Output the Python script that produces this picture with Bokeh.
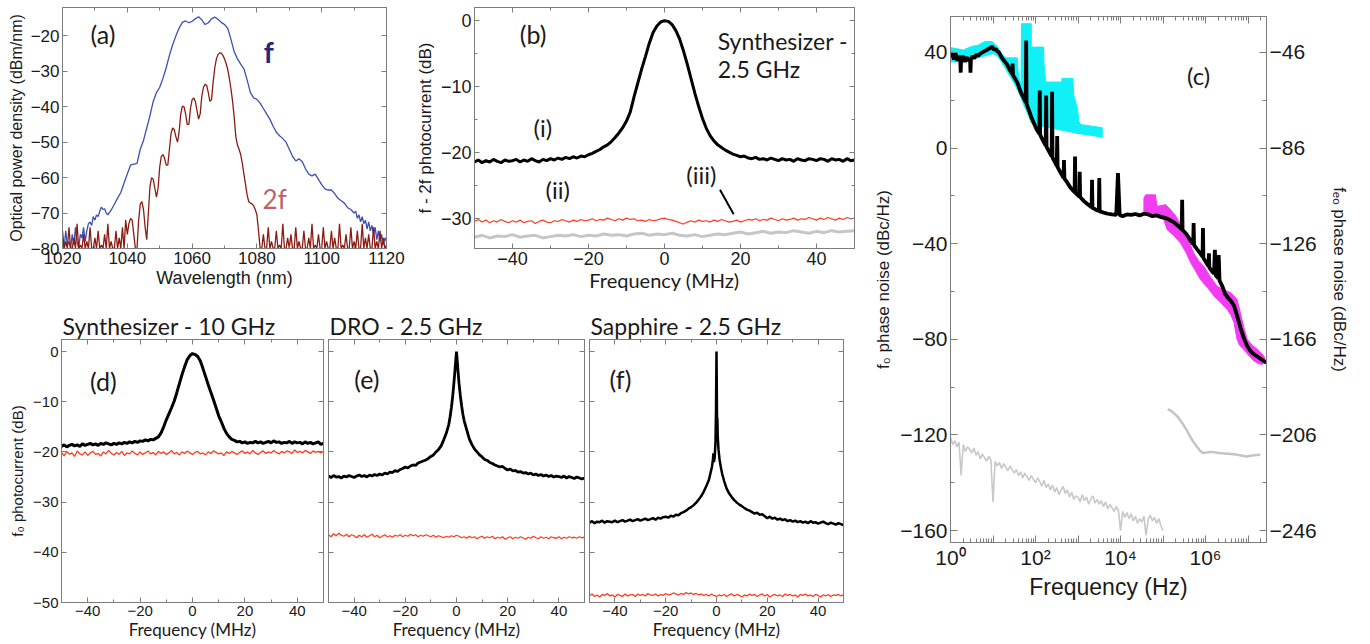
from bokeh.plotting import figure
from bokeh.layouts import row, column
from bokeh.models import Range1d, LinearAxis, LogAxis, FixedTicker, Label, CustomJSTickFormatter
from bokeh.embed import file_html
from bokeh.resources import INLINE

# ---------------- DATA ----------------
# (a) optical spectra: wavelength (nm), power density (dBm/nm)
A_BLUE_NOISE_L = [-77, -80, -75, -79, -78, -80, -76, -79, -74, -78, -80, -76, -77, -74, -78, -75, -73]  # 1020..1028 step 0.5
A_BLUE_MID = [(1028.5, -72.5), (1029, -73.5), (1029.5, -71), (1030, -72), (1030.5, -70.5), (1031, -71), (1031.5, -69.5),
              (1032, -68.3), (1032.5, -69), (1033, -68.8), (1033.5, -70), (1034, -70.5), (1034.5, -69.8), (1035, -69.2),
              (1036, -67.5), (1037, -65.8), (1038, -64.2), (1039, -61.5), (1040, -59), (1041, -56.5), (1042, -56.2),
              (1043, -56), (1044, -52), (1045, -49.5), (1046, -46), (1047, -42.5), (1048, -38.5), (1049, -36),
              (1050, -34.5), (1051, -32), (1052, -29), (1053, -25.5), (1054, -22.5), (1055, -20), (1056, -17.8),
              (1057, -16.2), (1058, -15.8), (1059, -16.3), (1060, -15.9), (1061, -15.2), (1062, -14.6), (1063, -15.5),
              (1064, -16.8), (1065, -16.3), (1066, -15.2), (1067, -14.7), (1068, -15.3), (1069, -16.2), (1070, -16.8),
              (1071, -17.9), (1072, -21), (1073, -24.5), (1074, -26.5), (1075, -28), (1076, -29.3), (1077, -32.5),
              (1078, -36), (1079, -37.5), (1080, -37.9), (1081, -39), (1082, -40.5), (1083, -42), (1084, -43.5),
              (1085, -45.5), (1086, -47.2), (1087, -48.2), (1088, -49), (1089, -50), (1090, -52), (1091, -54),
              (1092, -55.3), (1093, -54.7), (1094, -55.5), (1095, -57.5), (1096, -59), (1097, -59.5), (1098, -59),
              (1099, -60.5), (1100, -62), (1101, -63.2), (1102, -63.5), (1103, -63.5), (1104, -64.5), (1105, -65.8),
              (1106, -66.5), (1107, -67.2), (1108, -68.5), (1109, -69), (1110, -70)]
A_BLUE_NOISE_R = [-69.5, -71.5, -70.5, -72.5, -71, -73, -72, -74.5, -72.5, -75, -73.5, -76, -74, -77.5, -75, -78, -76, -79, -77, -78]  # 1110.5.. step 0.5

A_RED_FLOOR_L = [-75, -80, -78, -80, -74, -80, -80, -77, -80, -73, -80, -79, -80, -76, -80, -78, -80, -74, -80, -80, -77,
                 -80, -75, -80, -79, -80, -76, -80, -73, -80, -78, -80, -80, -75, -80, -77, -80, -74, -80, -72, -76]  # 1020..1040 step 0.5
A_RED_MID = [(1040.5, -73), (1041, -71.5), (1041.5, -72), (1042, -76), (1042.5, -80), (1043, -80), (1043.5, -72), (1044, -67.5),
             (1044.5, -66.8), (1045, -69), (1045.5, -74), (1046, -77.5), (1046.5, -70), (1047, -62.5), (1047.5, -60),
             (1048, -60.5), (1048.5, -63), (1049, -65.5), (1049.5, -63), (1050, -57), (1050.5, -54), (1051, -53.5),
             (1051.5, -54.5), (1052, -56.5), (1052.5, -56.5), (1053, -52), (1053.5, -47.5), (1054, -46), (1054.5, -46.5),
             (1055, -48.5), (1055.5, -50), (1056, -47), (1056.5, -42), (1057, -39.8), (1057.5, -40), (1058, -42),
             (1058.5, -45), (1059, -45), (1059.5, -40.5), (1060, -38), (1060.5, -37.5), (1061, -38.5), (1061.5, -41),
             (1062, -43.5), (1062.5, -42), (1063, -37), (1063.5, -34.5), (1064, -33.7), (1064.5, -34), (1065, -36),
             (1065.5, -38.5), (1066, -38), (1066.5, -33), (1067, -29), (1067.5, -26.5), (1068, -25.3), (1068.5, -24.8),
             (1069, -24.9), (1069.5, -25.5), (1070, -26.5), (1070.5, -27.8), (1071, -29.5), (1071.5, -32), (1072, -35),
             (1072.5, -38.5), (1073, -43), (1073.5, -48.5), (1074, -50.8), (1074.5, -52), (1075, -53.5), (1075.5, -56),
             (1076, -59), (1076.5, -62), (1077, -65), (1077.5, -66.8), (1078, -67.2), (1078.5, -67.4), (1079, -68),
             (1079.5, -69), (1080, -70.5), (1080.5, -75), (1081, -80)]
A_RED_FLOOR_R = [-80, -76, -80, -80, -74, -80, -78, -80, -80, -75, -80, -79, -80, -73, -80, -80, -77, -80, -76, -80, -80,
                 -74, -80, -78, -80, -80, -75, -80, -80, -77, -80, -73, -80, -79, -80, -76, -80, -80, -74, -80, -78, -80,
                 -80, -75, -80, -77, -80, -80, -73, -80, -79, -80, -76, -80, -80, -74, -80, -78, -80, -75, -80, -80, -73,
                 -80, -77, -80, -76, -80, -80, -74, -80, -78, -80, -75, -80, -77, -80, -79]  # 1081.5.. step 0.5

# (b) f-2f photocurrent (dB) vs frequency offset (MHz), -50..50 step 1
B_BLACK = [-21.4, -21.1, -21.5, -21.2, -21.4, -21.0, -21.3, -21.5, -21.1, -21.3, -21.2, -21.0, -21.4, -21.1, -21.3, -20.9,
           -21.2, -21.4, -21.0, -21.2, -20.9, -21.1, -20.8, -21.0, -20.7, -20.9, -20.6, -20.8, -20.5, -20.6, -20.3, -20.1,
           -19.8, -19.5, -19.1, -18.8, -18.3, -17.7, -17.0, -16.2, -15.2, -13.8, -11.5, -9.4, -7.3, -5.4, -3.4, -1.8,
           -0.8, -0.2, 0.0, -0.1, -0.6, -1.5, -2.8, -4.6, -6.6, -8.8, -11.0, -13.0, -14.8, -16.3, -17.4, -18.2, -18.8,
           -19.2, -19.6, -19.9, -20.2, -20.4, -20.6, -20.5, -20.8, -20.9, -20.7, -21.0, -20.9, -21.1, -20.8, -21.0, -21.2,
           -20.9, -21.1, -21.0, -21.3, -20.9, -21.1, -21.2, -20.9, -21.0, -21.2, -20.9, -21.0, -21.3, -20.9, -21.1, -21.0,
           -21.3, -20.9, -21.2, -21.1]
B_RED = [-30.4, -30.1, -30.5, -30.2, -30.6, -30.3, -30.5, -30.1, -30.4, -30.6, -30.3, -30.5, -30.2, -30.6, -30.4, -30.3,
         -30.7, -30.4, -30.2, -30.5, -30.6, -30.3, -30.4, -30.1, -30.3, -30.5, -30.2, -30.4, -30.1, -30.3, -30.2, -30.0,
         -30.3, -30.1, -30.2, -29.9, -30.1, -30.3, -30.0, -30.2, -29.9, -30.1, -30.0, -30.3, -30.2, -30.4, -30.1, -30.3,
         -30.2, -30.0, -29.9, -30.1, -30.2, -30.4, -30.6, -30.8, -30.5, -30.3, -30.5, -30.2, -30.4, -30.3, -30.5, -30.2,
         -30.4, -30.1, -30.3, -30.5, -30.4, -30.2, -30.5, -30.3, -30.1, -30.2, -30.0, -30.3, -30.1, -30.2, -29.9, -30.1,
         -30.3, -30.0, -30.2, -30.1, -29.9, -30.2, -30.0, -30.1, -29.8, -30.0, -30.2, -29.9, -30.1, -29.8, -30.0, -30.2,
         -29.9, -30.1, -29.8, -30.0, -29.9]
B_GRAY = [-32.8, -32.5, -32.9, -32.6, -32.7, -32.4, -32.8, -32.6, -32.5, -32.9, -32.7, -32.5, -32.6, -32.4, -32.7, -32.5,
          -32.6, -32.3, -32.5, -32.4, -32.6, -32.3, -32.2, -32.5, -32.3, -32.4, -32.2, -32.5, -32.6, -32.4, -32.7, -32.5,
          -32.3, -32.4, -32.2, -32.0, -32.3, -32.1, -31.9, -32.2, -32.0, -32.1, -31.8, -32.0, -32.2, -31.9, -32.1, -31.8,
          -32.0, -31.9, -31.8]  # step 2 MHz

# (c) phase noise: log10(frequency/Hz), dBc/Hz (left scale)
C_BLACK = [(0, 38), (0.04, 40), (0.08, 37), (0.12, 39.5), (0.16, 36.5), (0.2, 38.5), (0.23, 37), (0.24, 31.5), (0.25, 37),
           (0.3, 38.5), (0.34, 36), (0.38, 38), (0.42, 36.5), (0.46, 37.5), (0.47, 31.5), (0.48, 37), (0.52, 38.5),
           (0.56, 37.5), (0.6, 39), (0.65, 38.5), (0.7, 39.5), (0.75, 40), (0.8, 40.5), (0.85, 41), (0.9, 41.5),
           (0.95, 42), (0.98, 42.5), (1.02, 41), (1.06, 41.5), (1.1, 40.5), (1.14, 40), (1.2, 38), (1.26, 36.5),
           (1.33, 35), (1.4, 32.5), (1.45, 31), (1.46, 35.3), (1.47, 30.5), (1.52, 29), (1.58, 27), (1.65, 23.5),
           (1.72, 21), (1.77, 19), (1.78, 45), (1.79, 18.5), (1.85, 15.5), (1.9, 13), (1.96, 10.5), (2.02, 8), (2.09, 6),
           (2.10, 24), (2.11, 5.5), (2.18, 3), (2.24, 1), (2.25, 22), (2.26, 0.5), (2.32, -1.5), (2.38, -3.5),
           (2.39, 23.5), (2.40, -4), (2.46, -6), (2.5, -7.5), (2.51, 5), (2.52, -8), (2.58, -10), (2.66, -12.5),
           (2.67, -5), (2.68, -12.8), (2.75, -14.5), (2.82, -16.5), (2.92, -18.5), (2.93, -3.6), (2.94, -18.8),
           (3.03, -20.3), (3.04, -9.9), (3.05, -20.5), (3.14, -22.2), (3.22, -23.4), (3.32, -24.8), (3.33, -13.3),
           (3.34, -25), (3.42, -25.8), (3.49, -26.3), (3.50, -12.6), (3.51, -26.5), (3.6, -27), (3.7, -27.5),
           (3.8, -27.8), (3.9, -28), (3.94, -10.5), (3.98, -28), (4.05, -28.5), (4.15, -27.8), (4.25, -28),
           (4.35, -27.6), (4.45, -28.2), (4.55, -27.5), (4.65, -27.8), (4.75, -28.5), (4.85, -28.2), (4.95, -28.8),
           (5.05, -29.2), (5.15, -30), (5.25, -31), (5.35, -32.5), (5.44, -34), (5.45, -21.7), (5.46, -34.3),
           (5.55, -36), (5.64, -38.5), (5.71, -40.2), (5.72, -31.4), (5.73, -40.6), (5.8, -42.3), (5.88, -44.2),
           (5.93, -45.5), (5.94, -33.5), (5.95, -46), (6.02, -48), (6.07, -49.5), (6.08, -44), (6.09, -50),
           (6.15, -51.5), (6.2, -52.5), (6.22, -42.6), (6.24, -53.2), (6.30, -54.5), (6.31, -44.8), (6.33, -55.5),
           (6.4, -58), (6.46, -61), (6.52, -62.5), (6.6, -64), (6.67, -66), (6.74, -70), (6.82, -75), (6.9, -79.5),
           (6.98, -82.8), (7.06, -85), (7.14, -86.3), (7.22, -87.2), (7.3, -88.2), (7.38, -89.2), (7.43, -89.8)]
C_CYAN_UP = [(0, 42), (0.15, 41.5), (0.3, 41), (0.5, 42.5), (0.65, 43), (0.8, 44.5), (0.98, 44.5), (1.1, 42.5),
             (1.2, 39.5), (1.3, 37.7), (1.57, 37.7), (1.6, 30), (1.66, 26), (1.67, 52), (1.90, 52), (1.90, 42.2),
             (2.19, 42.2), (2.2, 35), (2.24, 27.6), (2.62, 27.6), (2.62, 29.1), (2.88, 29.1), (2.9, 22), (2.99, 16.4),
             (3.02, 11), (3.06, 9.8), (3.3, 9.2), (3.57, 8.5)]
C_CYAN_LO = [(3.57, 4.5), (3.3, 5.3), (3.0, 6.1), (2.6, 7.5), (2.3, 8.6), (2.05, 9.5), (1.9, 10.5), (1.8, 15), (1.7, 19),
             (1.6, 23.5), (1.5, 27), (1.4, 30), (1.3, 33), (1.2, 36), (1.1, 38.5), (1.0, 39.5), (0.8, 38.5), (0.6, 37.5),
             (0.4, 36.5), (0.2, 36), (0, 36)]
C_MAG_UP = [(4.55, -21), (4.59, -19.6), (4.82, -19.6), (4.86, -24.4), (5.06, -23.7), (5.18, -25.8), (5.3, -28.5),
            (5.49, -34.2), (5.6, -38.5), (5.72, -43.9), (5.85, -47.5), (5.96, -49.5), (6.1, -53.5), (6.27, -57.8),
            (6.45, -59.5), (6.59, -60.5), (6.74, -63.3), (6.82, -68.9), (6.9, -75), (6.98, -80), (7.1, -82.5),
            (7.22, -84.2), (7.35, -86.5), (7.4, -88)]
C_MAG_LO = [(7.4, -89.5), (7.33, -90.5), (7.25, -90.2), (7.14, -89.1), (7.0, -86.5), (6.9, -84.2), (6.8, -82.5),
            (6.74, -80), (6.67, -73), (6.6, -70), (6.51, -67.5), (6.35, -64.5), (6.2, -61.9), (6.05, -58.5),
            (5.88, -55), (5.77, -51.5), (5.65, -48), (5.55, -44), (5.41, -39.7), (5.25, -36.5), (5.1, -34.2),
            (5.02, -30), (4.8, -28.5), (4.59, -27.9), (4.55, -27)]
C_GRAY_L = [-121, -124, -122.5, -125, -123, -137, -124, -127, -125, -126,
            -127.5, -125.5, -128.5, -127, -130, -128, -129.5, -131, -129, -130.5,
            -148, -131, -133, -131.5, -134, -132, -133.5, -135, -133, -134.5,
            -136, -134.5, -137, -135.5, -138, -136, -137.5, -139, -137, -138.5,
            -140, -138, -139.5, -141.5, -139, -142, -140.5, -143, -141, -144,
            -142, -145, -143, -141.5, -144.5, -143, -146, -144, -147, -145.5,
            -146, -148, -145, -147.5, -146, -149, -147, -145.5, -148.5, -147,
            -149, -147.5, -150, -148, -151, -149, -150.5, -152, -150, -151.5,
            -160, -152, -154.5, -152.5, -155, -153, -156, -154, -157, -155,
            -156.5, -154, -162, -155.5, -153.5, -156, -154.5, -157, -155, -158,
            -160]  # log10 f = 0..5 step 0.05
C_GRAY_R = [(5.11, -109.2), (5.18, -109.8), (5.25, -110.8), (5.35, -112.5), (5.45, -115), (5.55, -117.8), (5.65, -121),
            (5.72, -123.1), (5.8, -125), (5.88, -126.8), (5.95, -127.6), (6.05, -127.3), (6.15, -127.1), (6.3, -127.6),
            (6.45, -127.8), (6.6, -128), (6.75, -128.3), (6.9, -128.8), (6.98, -129), (7.1, -128.6), (7.2, -128.4),
            (7.29, -128.3)]

# (d) synthesizer 10 GHz, -50..50 step 1
D_BLACK = [-18.9, -18.6, -19.0, -18.7, -18.5, -18.8, -18.6, -18.9, -18.4, -18.7, -18.5, -18.3, -18.6, -18.4, -18.7, -18.3,
           -18.5, -18.2, -18.4, -18.6, -18.3, -18.5, -18.2, -18.4, -18.1, -18.3, -18.0, -18.2, -17.9, -18.1, -17.8, -17.9,
           -17.6, -17.8, -17.5, -17.6, -17.3, -17.0, -16.2, -15.0, -13.6, -12.4, -11.2, -9.9, -8.2, -6.4, -4.6, -3.0, -1.6,
           -0.8, -0.4, -0.6, -1.0, -1.9, -3.4, -5.0, -6.6, -8.1, -9.6, -11.2, -12.8, -14.0, -15.3, -16.3, -17.0, -17.5,
           -17.7, -18.0, -17.9, -18.2, -18.0, -18.3, -18.1, -18.2, -17.9, -18.2, -18.0, -18.3, -18.1, -17.9, -18.2, -17.8,
           -18.1, -18.0, -18.3, -18.1, -18.2, -17.9, -18.3, -18.0, -18.2, -18.1, -18.4, -18.0, -18.3, -18.1, -18.4, -18.2,
           -18.0, -18.5, -18.3]
D_RED = [-20.1, -20.8, -19.9, -20.5, -20.2, -20.9, -19.8, -20.4, -20.6, -20.0, -20.7, -20.2, -19.9, -20.5, -20.3, -20.8,
         -20.0, -20.4, -19.7, -20.3, -20.6, -20.1, -20.5, -19.9, -20.7, -20.2, -20.4, -19.8, -20.3, -20.6, -20.0, -20.5,
         -20.2, -19.8, -20.4, -20.1, -20.6, -19.9, -20.3, -20.0, -20.5, -20.2, -19.7, -20.4, -20.1, -20.6, -20.0, -20.3,
         -19.8, -20.2, -20.5, -20.1, -19.9, -20.4, -20.2, -20.6, -20.0, -20.3, -19.8, -20.1, -20.4, -20.2, -20.7, -20.0,
         -20.3, -19.9, -20.2, -20.5, -20.1, -19.8, -20.3, -20.0, -20.4, -19.7, -20.2, -20.5, -20.1, -19.8, -20.3, -20.0,
         -20.2, -19.7, -20.1, -20.4, -19.9, -20.2, -19.8, -20.0, -20.3, -19.6, -20.1, -19.9, -20.2, -19.7, -20.0, -20.3,
         -19.8, -20.1, -19.9, -20.2, -19.8]

# (e) DRO 2.5 GHz
E_BLACK_L = [-24.8, -25.1, -24.7, -25.0, -24.9, -25.2, -24.8, -25.0, -24.7, -24.9,
             -25.1, -24.8, -24.6, -24.9, -24.7, -25.0, -24.6, -24.8, -24.5, -24.7,
             -24.4, -24.6, -24.2, -24.4, -24.0, -24.1, -23.7, -23.9, -23.5, -23.3,
             -23.0, -23.2, -22.8, -22.6, -22.7, -22.2, -22.0, -21.8, -21.6, -21.3,
             -20.9, -20.6, -20.0, -19.5, -18.8, -17.6, -16.3]  # -50..-4
E_BLACK_C = [(-3, -14.5), (-2.5, -13), (-2, -11.2), (-1.5, -9), (-1, -6.2), (-0.6, -3.8), (-0.3, -1.8), (0, 0),
             (0.3, -1.9), (0.6, -3.9), (1, -6.4), (1.5, -8.8), (2, -10.8), (2.5, -12.5), (3, -13.8)]
E_BLACK_R = [-15.6, -17.4, -18.5, -19.4, -20.0, -20.6, -21.0, -21.5, -21.7, -22.1,
             -22.3, -22.6, -22.8, -23.0, -22.9, -23.3, -23.6, -23.4, -23.8, -23.7,
             -24.0, -23.9, -24.2, -24.1, -24.4, -24.2, -24.6, -24.4, -24.7, -24.5,
             -24.8, -24.6, -24.9, -24.7, -25.0, -24.8, -24.9, -25.1, -24.8, -25.2,
             -24.9, -25.1, -25.3, -25.0, -25.2, -25.4, -25.2]  # 4..50
E_RED = [-36.5, -36.9, -36.3, -36.7, -36.2, -36.6, -36.8, -36.4, -36.9, -36.5, -36.7, -37.1, -36.6, -36.9, -36.5, -37.0,
         -36.7, -36.4, -36.9, -36.6, -37.1, -36.8, -36.5, -36.9, -36.7, -37.0, -36.6, -36.8, -36.5, -36.9, -36.6, -36.8,
         -36.4, -36.7, -36.5, -36.9, -36.6, -36.8, -36.5, -36.7, -36.9, -36.6, -37.0, -36.7, -36.9, -37.1, -36.8, -37.0,
         -36.7, -36.9, -36.6, -36.8, -37.1, -36.9, -37.2, -36.8, -37.1, -36.9, -37.3, -37.0, -36.8, -37.2, -36.9, -37.1,
         -36.8, -37.3, -37.0, -37.2, -36.9, -37.4, -37.1, -36.9, -37.3, -37.0, -37.2, -36.9, -37.1, -37.4, -37.0, -37.2,
         -36.8, -37.1, -37.3, -36.9, -37.2, -37.0, -37.3, -36.9, -37.1, -37.2, -36.9, -37.3, -37.0, -37.2, -36.9, -37.1,
         -37.0, -37.2, -36.9, -37.1, -37.0]

# (f) Sapphire 2.5 GHz
F_BLACK_L = [-34.1, -33.8, -34.2, -33.9, -34.0, -33.7, -34.1, -33.8, -33.9, -34.0,
             -33.7, -34.0, -33.8, -33.6, -33.9, -33.7, -33.5, -33.8, -33.6, -33.4,
             -33.7, -33.5, -33.3, -33.6, -33.4, -33.2, -33.5, -33.1, -33.3, -33.0,
             -32.9, -33.1, -32.7, -32.9, -32.5, -32.6, -32.2, -32.0, -31.7, -31.3,
             -31.0, -30.6, -30.1, -29.5, -28.8, -27.9, -26.8]  # -50..-4
F_BLACK_C = [(-3, -25.6), (-2.4, -24.3), (-1.8, -23), (-1.4, -21.5), (-1.2, -20.3), (-1.0, -22), (-0.7, -21),
             (-0.4, -18), (-0.2, -12), (-0.05, -3), (0, 0), (0.1, -6), (0.2, -13), (0.35, -13.5), (0.5, -17),
             (0.8, -19.6), (1.2, -21.5), (1.7, -23), (2.2, -24.3), (3, -25.8)]
F_BLACK_R = [-27.3, -28.3, -29.0, -29.6, -30.1, -30.5, -30.8, -31.2, -31.5, -31.7,
             -32.0, -32.3, -32.1, -32.5, -32.4, -32.8, -33.2, -32.9, -33.3, -33.1,
             -33.5, -33.3, -33.6, -33.4, -33.8, -33.6, -33.9, -33.7, -34.0, -33.8,
             -34.1, -33.9, -34.2, -33.8, -34.1, -34.0, -34.3, -34.1, -33.9, -34.2,
             -34.4, -34.1, -34.3, -34.5, -34.2, -34.4, -34.6]  # 4..50
F_RED = [-48.7, -48.3, -48.8, -48.5, -48.9, -48.4, -48.6, -48.2, -48.7, -48.5, -48.9, -48.4, -48.6, -48.8, -48.3, -48.7,
         -48.5, -48.4, -48.8, -48.3, -48.6, -48.4, -48.7, -48.2, -48.5, -48.6, -48.3, -48.7, -48.4, -48.6, -48.2, -48.5,
         -48.4, -48.1, -48.3, -48.5, -48.2, -48.4, -48.0, -48.3, -48.1, -48.4, -48.2, -48.5, -48.3, -48.6, -48.4, -48.7,
         -48.3, -48.6, -48.8, -48.5, -48.7, -48.4, -48.8, -48.5, -48.3, -48.7, -48.4, -48.6, -48.9, -48.5, -48.7, -48.3,
         -48.6, -48.4, -48.8, -48.5, -48.3, -48.7, -48.4, -48.9, -48.6, -48.4, -48.7, -48.5, -48.8, -48.3, -48.6, -48.4,
         -48.7, -48.5, -48.9, -48.4, -48.6, -48.3, -48.7, -48.5, -48.8, -48.4, -48.6, -48.9, -48.5, -48.7, -48.4, -48.8,
         -48.5, -48.6, -48.4, -48.7, -48.5]

# ---------------- STYLE HELPERS ----------------
AX = "#7d7d7d"
TXT = "#1a1a1a"
GEO = "Lato"
SANS = "Liberation Sans"
BLANK = CustomJSTickFormatter(code="return '';")


def base_fig(w, h, xr, yr, mb, title=None, xlog=False):
    kw = dict(width=w, height=h, x_range=xr, y_range=yr, output_backend="svg", toolbar_location=None,
              min_border_left=mb[0], min_border_right=mb[1], min_border_top=mb[2], min_border_bottom=mb[3])
    if xlog:
        kw["x_axis_type"] = "log"
    p = figure(title=title, **kw)
    p.xgrid.visible = False
    p.ygrid.visible = False
    p.outline_line_color = AX
    p.border_fill_color = "white"
    p.background_fill_color = "white"
    return p


def sty(ax, size, show=True, tin=5, mtin=3):
    ax.axis_line_color = AX
    ax.major_tick_line_color = AX
    ax.minor_tick_line_color = AX
    ax.major_tick_in = tin
    ax.major_tick_out = 0
    ax.minor_tick_in = mtin
    ax.minor_tick_out = 0
    ax.major_label_text_font = SANS
    ax.axis_label_text_font_style = "normal"
    ax.axis_label_text_color = TXT
    if show:
        ax.major_label_text_color = TXT
        ax.major_label_text_font_size = size
        ax.major_label_standoff = 3
    else:
        ax.formatter = BLANK
        ax.major_label_text_color = None
        ax.major_label_text_font_size = "0px"
        ax.major_label_standoff = 0


def mirror(p, xt, yt, xlog=False, with_right=True, tin=5, mtin=3):
    top = (LogAxis if xlog else LinearAxis)(ticker=xt)
    sty(top, "0px", False, tin, mtin)
    p.add_layout(top, "above")
    if with_right:
        right = LinearAxis(ticker=yt)
        sty(right, "0px", False, tin, mtin)
        p.add_layout(right, "right")


def lab(p, x, y, text, size="22px", font=GEO, color=TXT, align="center", style="normal"):
    p.add_layout(Label(x=x, y=y, text=text, text_font=font, text_font_size=size, text_color=color,
                       text_align=align, text_baseline="middle", text_font_style=style))


# ---------------- PANEL (a) ----------------
pa = base_fig(412, 300, Range1d(1020, 1120), Range1d(-80, -12), (62, 26, 7, 51))
ax_x = FixedTicker(ticks=[1020, 1040, 1060, 1080, 1100, 1120], minor_ticks=[1030, 1050, 1070, 1090, 1110])
ay_a = FixedTicker(ticks=[-80, -70, -60, -50, -40, -30, -20], minor_ticks=[])
pa.xaxis.ticker = ax_x
pa.yaxis.ticker = ay_a
sty(pa.xaxis[0], "17px")
sty(pa.yaxis[0], "17px")
pa.xaxis.axis_label = "Wavelength (nm)"
pa.yaxis.axis_label = "Optical power density (dBm/nm)"
pa.xaxis.axis_label_text_font = SANS
pa.yaxis.axis_label_text_font = SANS
pa.xaxis.axis_label_text_font_size = "18px"
pa.yaxis.axis_label_text_font_size = "16px"
pa.xaxis.axis_label_standoff = 1
pa.yaxis.axis_label_standoff = 3
mirror(pa, ax_x, ay_a)

blue_x = [1020 + 0.5 * i for i in range(len(A_BLUE_NOISE_L))] + [q[0] for q in A_BLUE_MID] + \
         [1110.5 + 0.5 * i for i in range(len(A_BLUE_NOISE_R))]
blue_y = A_BLUE_NOISE_L + [q[1] for q in A_BLUE_MID] + A_BLUE_NOISE_R
red_x = [1020 + 0.5 * i for i in range(len(A_RED_FLOOR_L))] + [q[0] for q in A_RED_MID] + \
        [1081.5 + 0.5 * i for i in range(len(A_RED_FLOOR_R))]
red_y = A_RED_FLOOR_L + [q[1] for q in A_RED_MID] + A_RED_FLOOR_R
pa.line(blue_x, blue_y, line_color="#3b4fb5", line_width=1.3)
pa.line(red_x, red_y, line_color="#8c1c13", line_width=1.3)
lab(pa, 1032.5, -19.5, "(a)", "25px")
lab(pa, 1083.7, -24.5, "f", "28px", color="#26267a", style="bold")
lab(pa, 1085.5, -66, "2f", "26px", color="#b8636d")

# ---------------- PANEL (b) ----------------
pb = base_fig(458, 300, Range1d(-50, 50), Range1d(-34.5, 2), (59, 16, 7, 52))
bx_t = FixedTicker(ticks=[-40, -20, 0, 20, 40], minor_ticks=[-50, -30, -10, 10, 30, 50])
by_t = FixedTicker(ticks=[0, -10, -20, -30], minor_ticks=[-5, -15, -25])
pb.xaxis.ticker = bx_t
pb.yaxis.ticker = by_t
sty(pb.xaxis[0], "18px")
sty(pb.yaxis[0], "18px")
pb.xaxis.axis_label = "Frequency (MHz)"
pb.yaxis.axis_label = "f - 2f photocurrent (dB)"
pb.xaxis.axis_label_text_font = GEO
pb.yaxis.axis_label_text_font = SANS
pb.xaxis.axis_label_text_font_size = "20px"
pb.yaxis.axis_label_text_font_size = "17px"
pb.xaxis.axis_label_standoff = 0
pb.yaxis.axis_label_standoff = 3
mirror(pb, bx_t, by_t)
pb.line([-50 + 2 * i for i in range(len(B_GRAY))], B_GRAY, line_color="#c6c6c6", line_width=3)
pb.line([-50 + i for i in range(len(B_RED))], B_RED, line_color="#ff3c1e", line_width=1.2)
pb.line([-50 + i for i in range(len(B_BLACK))], B_BLACK, line_color="black", line_width=3)
lab(pb, -34.6, -2.0, "(b)", "25px")
lab(pb, 14.0, -3.0, "Synthesizer -", "23px", align="left")
lab(pb, 14.0, -7.3, "2.5 GHz", "23px", align="left")
lab(pb, -32, -16.2, "(i)", "24px")
lab(pb, -28.1, -25.5, "(ii)", "24px")
lab(pb, 9.7, -23.3, "(iii)", "24px")
pb.segment(x0=[14.6], y0=[-25.6], x1=[18.2], y1=[-29.3], line_color="black", line_width=2)

# ---------------- PANEL (c) ----------------
pc = base_fig(498, 642, Range1d(1, 2.72e7), Range1d(-165, 55), (80, 102, 16, 100), xlog=True)
decades = [10 ** k for k in range(8)]
cx_t = FixedTicker(ticks=decades, minor_ticks=[m * 10 ** k for k in range(8) for m in range(2, 10)])
cy_t = FixedTicker(ticks=[-160, -120, -80, -40, 0, 40], minor_ticks=[-140, -100, -60, -20, 20])
pc.xaxis.ticker = cx_t
pc.yaxis.ticker = cy_t
sty(pc.xaxis[0], "21px", tin=7, mtin=4)
sty(pc.yaxis[0], "21px", tin=7, mtin=4)
pc.xaxis[0].formatter = CustomJSTickFormatter(code="""
const e = Math.round(Math.log10(tick));
if (e % 2 != 0) return "";
const s = {0: "\\u2070", 2: "\\u00b2", 4: "\\u2074", 6: "\\u2076"};
return "10" + s[e];
""")
pc.xaxis.axis_label = "Frequency (Hz)"
pc.xaxis.axis_label_text_font = SANS
pc.xaxis.axis_label_text_font_size = "23px"
pc.xaxis.axis_label_standoff = 2
pc.yaxis.axis_label = "f\u2080 phase noise (dBc/Hz)"
pc.yaxis.axis_label_text_font = SANS
pc.yaxis.axis_label_text_font_size = "17px"
pc.yaxis.axis_label_standoff = 4
pc.extra_y_ranges = {"eo": Range1d(-165 - 86, 55 - 86)}
ry = LinearAxis(y_range_name="eo", ticker=FixedTicker(ticks=[-246, -206, -166, -126, -86, -46],
                                                      minor_ticks=[-226, -186, -146, -106, -66]))
sty(ry, "21px", tin=7, mtin=4)
ry.axis_label = "f\u2091\u2092 phase noise (dBc/Hz)"
ry.axis_label_text_font = SANS
ry.axis_label_text_font_size = "17px"
ry.axis_label_standoff = 10
pc.add_layout(ry, "right")
mirror(pc, cx_t, None, xlog=True, with_right=False, tin=7, mtin=4)

cy_x = [10 ** q[0] for q in C_CYAN_UP] + [10 ** q[0] for q in C_CYAN_LO]
cy_y = [q[1] for q in C_CYAN_UP] + [q[1] for q in C_CYAN_LO]
pc.patch(cy_x, cy_y, fill_color="#10f0f6", line_color="#10f0f6", line_width=1)
mg_x = [10 ** q[0] for q in C_MAG_UP] + [10 ** q[0] for q in C_MAG_LO]
mg_y = [q[1] for q in C_MAG_UP] + [q[1] for q in C_MAG_LO]
pc.patch(mg_x, mg_y, fill_color="#f23cf2", line_color="#f23cf2", line_width=1)
pc.line([10 ** (0.05 * i) for i in range(len(C_GRAY_L))], C_GRAY_L, line_color="#c8c8c8", line_width=1.6)
pc.line([10 ** q[0] for q in C_GRAY_R], [q[1] for q in C_GRAY_R], line_color="#c4c4c4", line_width=2.5)
pc.line([10 ** q[0] for q in C_BLACK], [q[1] for q in C_BLACK], line_color="black", line_width=3.8)
lab(pc, 6.9e5, 30.4, "(c)", "24px")

# ---------------- PANELS (d), (e), (f) ----------------
dx_t = FixedTicker(ticks=[-40, -20, 0, 20, 40], minor_ticks=[-50, -30, -10, 10, 30, 50])
dy_t = FixedTicker(ticks=[0, -10, -20, -30, -40, -50], minor_ticks=[])


def small_panel(w, mb, title, show_y):
    p = base_fig(w, 342, Range1d(-50, 50), Range1d(-50, 2.4), mb, title=title)
    p.title.text_font = GEO
    p.title.text_font_size = "23px"
    p.title.text_font_style = "normal"
    p.title.text_color = TXT
    p.title.align = "left"
    p.title.standoff = 0
    p.title.offset = 1
    p.xaxis.ticker = dx_t
    p.yaxis.ticker = dy_t
    sty(p.xaxis[0], "15px")
    sty(p.yaxis[0], "15px", show_y)
    p.xaxis.axis_label = "Frequency (MHz)"
    p.xaxis.axis_label_text_font = GEO
    p.xaxis.axis_label_text_font_size = "17px"
    p.xaxis.axis_label_standoff = 0
    if show_y:
        p.yaxis.axis_label = "f\u2080 photocurrent (dB)"
        p.yaxis.axis_label_text_font = SANS
        p.yaxis.axis_label_text_font_size = "15px"
        p.yaxis.axis_label_standoff = 4
    mirror(p, dx_t, dy_t)
    return p


pd = small_panel(326, (61, 3, 39, 40), "Synthesizer - 10 GHz", True)
pd.line([-50 + i for i in range(len(D_RED))], D_RED, line_color="#ff3c1e", line_width=1.3)
pd.line([-50 + i for i in range(len(D_BLACK))], D_BLACK, line_color="black", line_width=3)
lab(pd, -34, -5.8, "(d)", "25px")

pe = small_panel(260, (2, 2, 39, 40), "DRO - 2.5 GHz", False)
e_x = [-50 + i for i in range(len(E_BLACK_L))] + [q[0] for q in E_BLACK_C] + [4 + i for i in range(len(E_BLACK_R))]
e_y = E_BLACK_L + [q[1] for q in E_BLACK_C] + E_BLACK_R
pe.line([-50 + i for i in range(len(E_RED))], E_RED, line_color="#ff3c1e", line_width=1.3)
pe.line(e_x, e_y, line_color="black", line_width=2.8)
lab(pe, -35, -5.4, "(e)", "25px")

pf = small_panel(284, (3, 27, 39, 40), "Sapphire - 2.5 GHz", False)
f_x = [-50 + i for i in range(len(F_BLACK_L))] + [q[0] for q in F_BLACK_C] + [4 + i for i in range(len(F_BLACK_R))]
f_y = F_BLACK_L + [q[1] for q in F_BLACK_C] + F_BLACK_R
pf.line([-50 + i for i in range(len(F_RED))], F_RED, line_color="#ff3c1e", line_width=1.3)
pf.line(f_x, f_y, line_color="black", line_width=2.5)
lab(pf, -37.8, -5.4, "(f)", "25px")

layout = row(column(row(pa, pb), row(pd, pe, pf)), pc)
open("out.html", "w").write(file_html(layout, INLINE))
